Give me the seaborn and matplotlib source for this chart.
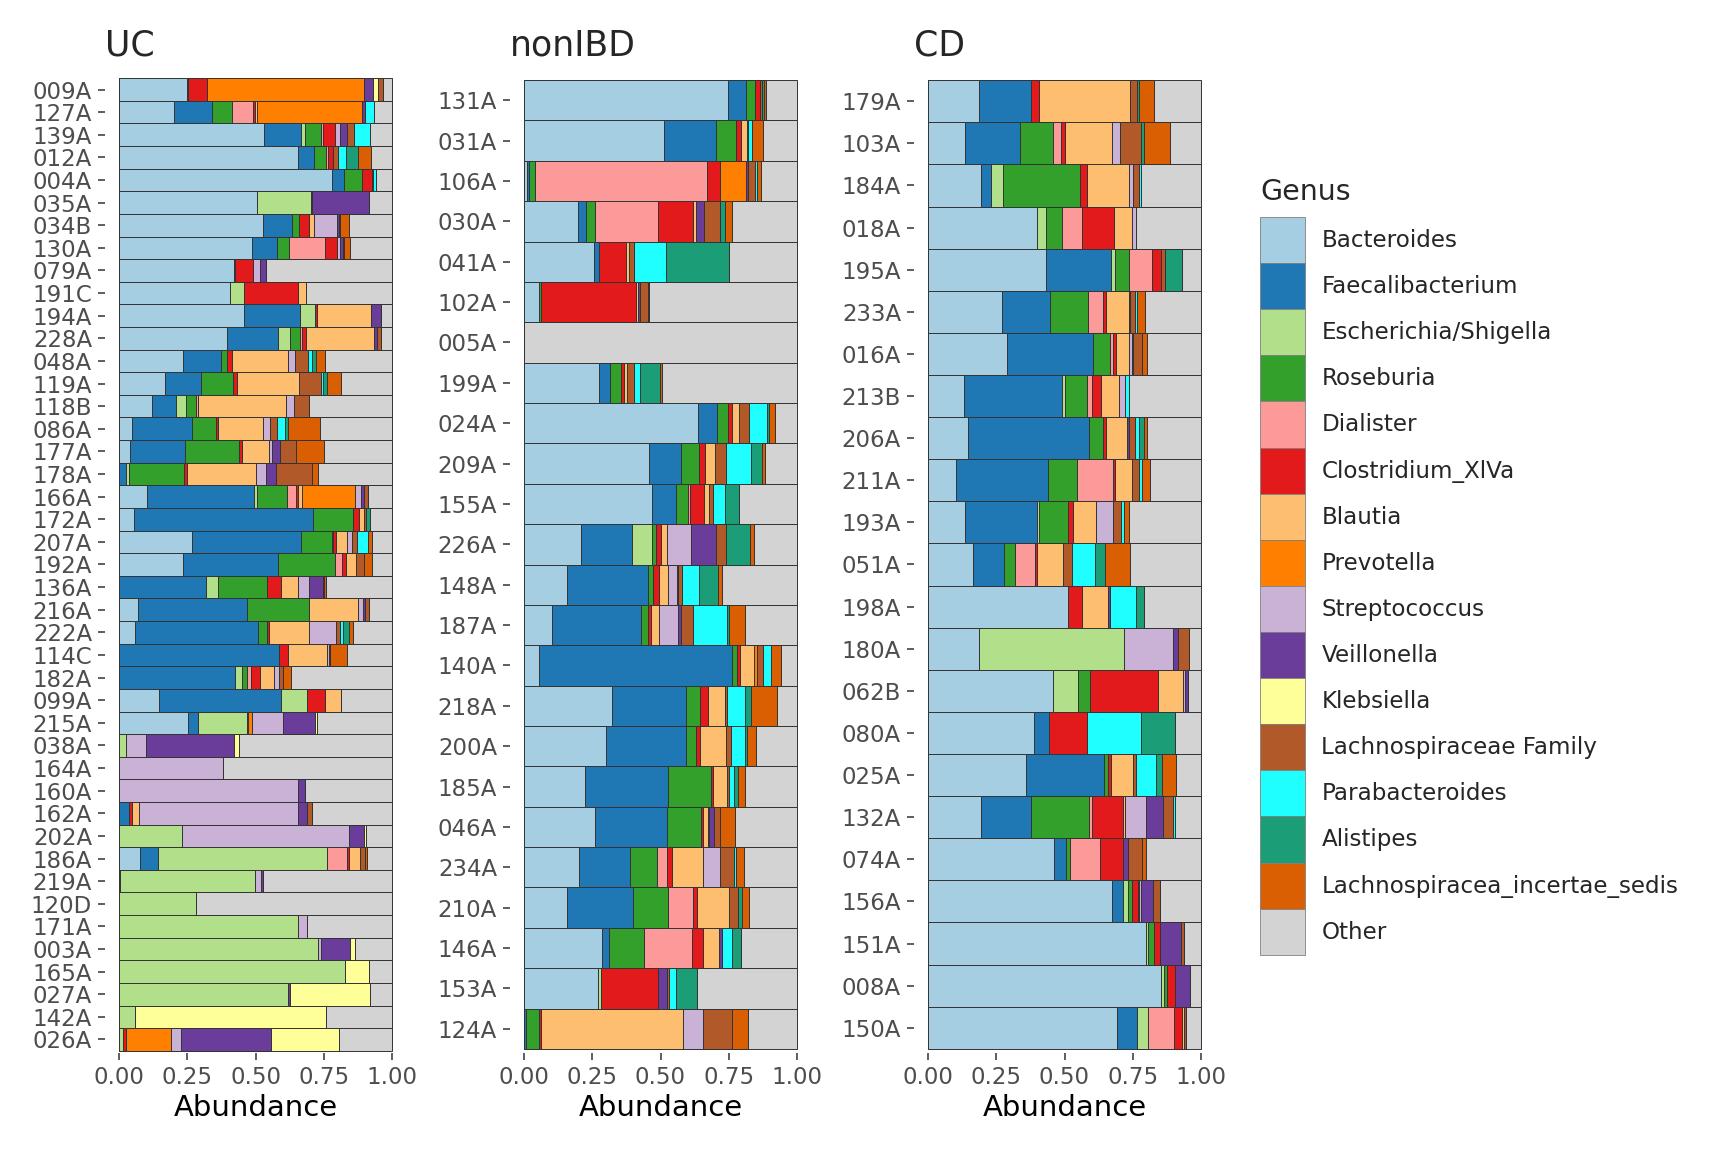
import numpy as np
import pandas as pd
import matplotlib
matplotlib.use("Agg")
import matplotlib.pyplot as plt
import matplotlib.patches as mpatches
import seaborn as sns

# genus order = stacking order from left to right (Other is the remainder)
genera = ["Bacteroides", "Faecalibacterium", "Escherichia/Shigella", "Roseburia",
          "Dialister", "Clostridium_XlVa", "Blautia", "Prevotella", "Streptococcus",
          "Veillonella", "Klebsiella", "Lachnospiraceae Family", "Parabacteroides",
          "Alistipes", "Lachnospiracea_incertae_sedis", "Other"]

colors = ["#A6CEE3", "#1F78B4", "#B2DF8A", "#33A02C", "#FB9A99", "#E31A1C",
          "#FDBF6F", "#FF7F00", "#CAB2D6", "#6A3D9A", "#FFFF99", "#B15928",
          "#1FFFFF", "#1B9E77", "#D95F02", "#D3D3D3"]

# columns: Bact, Faec, Esch, Rose, Dial, Clos, Blau, Prev, Strep, Veil, Kleb, LFam, Para, Alis, LInc
uc_samples = ["009A", "127A", "139A", "012A", "004A", "035A", "034B", "130A", "079A",
              "191C", "194A", "228A", "048A", "119A", "118B", "086A", "177A", "178A",
              "166A", "172A", "207A", "192A", "136A", "216A", "222A", "114C", "182A",
              "099A", "215A", "038A", "164A", "160A", "162A", "202A", "186A", "219A",
              "120D", "171A", "003A", "165A", "027A", "142A", "026A"]
uc_abund = [
    [0.248, 0, 0, 0.007, 0, 0.066, 0, 0.576, 0, 0.033, 0.018, 0.018, 0, 0, 0],
    [0.203, 0.139, 0, 0.073, 0.077, 0.006, 0.006, 0.387, 0, 0.008, 0, 0, 0.034, 0, 0],
    [0.532, 0.136, 0.012, 0.061, 0.006, 0.045, 0, 0, 0.016, 0.027, 0, 0.026, 0.057, 0, 0],
    [0.657, 0.058, 0, 0.041, 0.009, 0.017, 0, 0, 0, 0, 0, 0.021, 0.028, 0.045, 0.045],
    [0.778, 0.045, 0, 0.065, 0, 0.037, 0, 0, 0, 0, 0, 0.006, 0.011, 0, 0],
    [0.504, 0, 0.197, 0, 0, 0.005, 0, 0, 0, 0.207, 0, 0, 0, 0, 0],
    [0.526, 0.106, 0, 0.028, 0, 0.034, 0.021, 0, 0.082, 0.007, 0, 0.006, 0, 0, 0.033],
    [0.488, 0.091, 0, 0.043, 0.133, 0.044, 0, 0, 0.008, 0.012, 0, 0.006, 0, 0, 0.022],
    [0.42, 0, 0.005, 0, 0, 0.065, 0, 0, 0.027, 0.023, 0, 0, 0, 0, 0],
    [0.408, 0, 0.051, 0, 0, 0.195, 0.029, 0, 0, 0, 0, 0, 0, 0, 0],
    [0.459, 0.202, 0.057, 0, 0, 0.007, 0.197, 0, 0, 0.035, 0, 0, 0, 0, 0],
    [0.395, 0.186, 0.046, 0.037, 0.005, 0.016, 0.248, 0, 0, 0.012, 0, 0.012, 0, 0, 0],
    [0.236, 0.138, 0, 0.022, 0, 0.018, 0.203, 0, 0.028, 0, 0, 0.048, 0.012, 0.017, 0.032],
    [0.171, 0.129, 0, 0.119, 0, 0.012, 0.229, 0, 0, 0, 0, 0.078, 0.01, 0.012, 0.051],
    [0.122, 0.088, 0.037, 0.034, 0.01, 0, 0.32, 0, 0.028, 0, 0, 0.055, 0, 0, 0],
    [0.05, 0.217, 0, 0.088, 0, 0.007, 0.167, 0, 0.024, 0, 0, 0.027, 0.028, 0.009, 0.117],
    [0.043, 0.201, 0, 0.197, 0, 0.009, 0.099, 0, 0.013, 0.028, 0, 0.057, 0, 0, 0.105],
    [0, 0.026, 0.01, 0.201, 0, 0.012, 0.252, 0, 0.037, 0.037, 0, 0.132, 0, 0, 0.021],
    [0.105, 0.391, 0.011, 0.107, 0.034, 0.006, 0.017, 0.194, 0.022, 0.011, 0, 0.012, 0, 0, 0],
    [0.055, 0.654, 0, 0.146, 0, 0.022, 0.021, 0, 0, 0, 0, 0.007, 0, 0.012, 0],
    [0.269, 0.398, 0, 0.111, 0.006, 0.012, 0.039, 0, 0.018, 0, 0, 0.018, 0.04, 0, 0.015],
    [0.234, 0.347, 0, 0.21, 0.024, 0.015, 0.038, 0, 0, 0, 0, 0.03, 0, 0, 0.027],
    [0, 0.318, 0.046, 0.179, 0, 0.049, 0.062, 0, 0.043, 0.048, 0, 0.006, 0, 0, 0.006],
    [0.072, 0.396, 0, 0.229, 0, 0, 0.179, 0, 0.018, 0.006, 0, 0.016, 0, 0, 0],
    [0.061, 0.447, 0, 0.033, 0, 0.01, 0.144, 0, 0.099, 0, 0, 0.016, 0.008, 0.022, 0.018],
    [0, 0.587, 0, 0, 0, 0.03, 0.143, 0, 0.007, 0, 0, 0.007, 0, 0, 0.061],
    [0, 0.424, 0.028, 0.018, 0.015, 0.032, 0.052, 0, 0.018, 0, 0, 0.015, 0, 0, 0.027],
    [0.149, 0.443, 0.095, 0, 0, 0.068, 0.056, 0, 0, 0, 0, 0, 0, 0, 0],
    [0.255, 0.035, 0.178, 0, 0, 0, 0.005, 0.016, 0.11, 0.117, 0.007, 0, 0, 0, 0],
    [0, 0, 0.028, 0, 0, 0, 0, 0, 0.073, 0.319, 0.018, 0, 0, 0, 0],
    [0, 0.002, 0, 0, 0, 0, 0, 0, 0.378, 0, 0, 0, 0, 0, 0],
    [0, 0, 0, 0, 0, 0, 0, 0, 0.654, 0.027, 0, 0, 0, 0, 0],
    [0, 0.039, 0, 0, 0, 0.011, 0.023, 0, 0.581, 0.033, 0, 0.018, 0, 0, 0],
    [0, 0, 0.23, 0, 0, 0, 0, 0, 0.613, 0.052, 0.007, 0, 0, 0, 0],
    [0.079, 0.063, 0.618, 0, 0.073, 0.007, 0.043, 0, 0, 0, 0, 0.018, 0, 0, 0.008],
    [0, 0.006, 0.491, 0, 0, 0, 0, 0, 0.024, 0.006, 0, 0, 0, 0, 0],
    [0, 0, 0.281, 0, 0, 0, 0, 0, 0, 0, 0, 0, 0, 0, 0],
    [0, 0, 0.657, 0, 0, 0, 0, 0, 0.033, 0, 0, 0, 0, 0, 0],
    [0, 0, 0.727, 0, 0, 0, 0, 0, 0.012, 0.108, 0.015, 0, 0, 0, 0],
    [0, 0, 0.827, 0, 0, 0, 0, 0, 0, 0, 0.089, 0, 0, 0, 0],
    [0, 0, 0.62, 0, 0, 0, 0, 0, 0, 0.006, 0.292, 0, 0, 0, 0],
    [0, 0, 0.061, 0, 0, 0, 0, 0, 0, 0, 0.695, 0, 0, 0, 0],
    [0, 0, 0.017, 0, 0, 0.008, 0, 0.168, 0.034, 0.331, 0.247, 0, 0, 0, 0],
]

nonibd_samples = ["131A", "031A", "106A", "030A", "041A", "102A", "005A", "199A",
                  "024A", "209A", "155A", "226A", "148A", "187A", "140A", "218A",
                  "200A", "185A", "046A", "234A", "210A", "146A", "153A", "124A"]
nonibd_abund = [
    [0.745, 0.066, 0, 0.036, 0, 0.016, 0, 0, 0, 0, 0, 0.008, 0, 0.008, 0.008],
    [0.514, 0.188, 0, 0.075, 0, 0.018, 0.02, 0, 0, 0, 0, 0.004, 0.016, 0, 0.039],
    [0.012, 0.008, 0, 0.02, 0.631, 0.045, 0, 0.098, 0, 0.006, 0, 0.024, 0.01, 0, 0.012],
    [0.2, 0.027, 0, 0.032, 0.233, 0.125, 0.011, 0, 0, 0.032, 0, 0.058, 0, 0.018, 0.024],
    [0.258, 0.016, 0, 0, 0, 0.1, 0.012, 0, 0, 0, 0, 0.016, 0.117, 0.23, 0],
    [0.057, 0, 0, 0.007, 0, 0.345, 0.01, 0, 0, 0.007, 0, 0.027, 0, 0.006, 0],
    [0, 0, 0, 0, 0, 0, 0, 0, 0, 0, 0, 0, 0, 0, 0],
    [0.277, 0.039, 0, 0.04, 0, 0.012, 0.008, 0, 0, 0, 0, 0.027, 0.023, 0.072, 0.008],
    [0.638, 0.067, 0, 0.04, 0, 0.017, 0.026, 0, 0, 0, 0, 0.034, 0.066, 0.01, 0.019],
    [0.459, 0.117, 0, 0.066, 0, 0.021, 0.036, 0, 0, 0, 0, 0.041, 0.092, 0.039, 0.011],
    [0.468, 0.09, 0, 0.041, 0.009, 0.05, 0.019, 0, 0, 0, 0, 0.015, 0.045, 0.05, 0],
    [0.21, 0.185, 0.075, 0.013, 0, 0.019, 0.022, 0, 0.089, 0.091, 0, 0.036, 0, 0.087, 0.013],
    [0.157, 0.296, 0, 0.021, 0, 0.021, 0.032, 0, 0.033, 0.004, 0, 0.016, 0.06, 0.069, 0.015],
    [0.103, 0.326, 0, 0.027, 0, 0.011, 0.029, 0, 0.069, 0.009, 0, 0.044, 0.126, 0.007, 0.058],
    [0.056, 0.706, 0, 0.016, 0, 0.012, 0.052, 0.011, 0, 0, 0, 0.022, 0.03, 0, 0.034],
    [0.323, 0.272, 0, 0.051, 0, 0.026, 0.063, 0, 0, 0, 0, 0.007, 0.066, 0.021, 0.095],
    [0.3, 0.295, 0, 0.034, 0, 0.015, 0.097, 0, 0, 0, 0, 0.018, 0.049, 0.008, 0.034],
    [0.225, 0.301, 0, 0.157, 0, 0.01, 0.049, 0, 0, 0, 0, 0.01, 0.016, 0.017, 0.022],
    [0.259, 0.265, 0, 0.123, 0, 0.007, 0.018, 0, 0.006, 0.018, 0, 0.023, 0, 0, 0.055],
    [0.203, 0.186, 0, 0.097, 0.039, 0.018, 0.114, 0, 0.06, 0, 0, 0.053, 0.007, 0, 0.028],
    [0.157, 0.241, 0, 0.129, 0.09, 0.016, 0.117, 0, 0, 0, 0, 0.035, 0, 0.012, 0.028],
    [0.286, 0.024, 0, 0.131, 0.173, 0.04, 0.061, 0, 0, 0.011, 0, 0, 0.034, 0.036, 0],
    [0.273, 0, 0.01, 0, 0, 0.207, 0, 0, 0, 0.033, 0, 0.008, 0.024, 0.078, 0],
    [0, 0.01, 0, 0.045, 0, 0.008, 0.518, 0, 0.073, 0, 0, 0.106, 0, 0, 0.061],
]

cd_samples = ["179A", "103A", "184A", "018A", "195A", "233A", "016A", "213B", "206A",
              "211A", "193A", "051A", "198A", "180A", "062B", "080A", "025A", "132A",
              "074A", "156A", "151A", "008A", "150A"]
cd_abund = [
    [0.187, 0.19, 0, 0, 0, 0.029, 0.332, 0, 0, 0, 0, 0.027, 0, 0.006, 0.057],
    [0.136, 0.202, 0, 0.12, 0.03, 0.013, 0.172, 0, 0.028, 0, 0, 0.077, 0, 0.011, 0.096],
    [0.195, 0.035, 0.044, 0.283, 0, 0.026, 0.154, 0, 0.012, 0, 0, 0.022, 0.01, 0, 0],
    [0.4, 0, 0.032, 0.06, 0.072, 0.118, 0.064, 0, 0.016, 0, 0, 0, 0, 0, 0],
    [0.432, 0.238, 0.015, 0.05, 0.084, 0.034, 0, 0, 0, 0, 0, 0.015, 0, 0.06, 0],
    [0.271, 0.176, 0, 0.139, 0.056, 0.01, 0.083, 0, 0, 0.006, 0, 0.015, 0.01, 0, 0.029],
    [0.29, 0.314, 0, 0.063, 0.01, 0.012, 0.046, 0, 0.01, 0.006, 0, 0.032, 0, 0, 0.019],
    [0.134, 0.358, 0.01, 0.079, 0.019, 0.034, 0.066, 0, 0.021, 0, 0, 0, 0.015, 0, 0],
    [0.147, 0.443, 0, 0.051, 0, 0.011, 0.077, 0, 0, 0.007, 0, 0.023, 0.013, 0.018, 0.011],
    [0.102, 0.339, 0, 0.103, 0.134, 0.005, 0.064, 0, 0, 0, 0, 0.026, 0.009, 0, 0.03],
    [0.136, 0.262, 0.007, 0.108, 0, 0.018, 0.084, 0, 0.063, 0, 0, 0.028, 0.012, 0, 0.018],
    [0.167, 0.113, 0, 0.039, 0.075, 0.005, 0.094, 0, 0, 0, 0, 0.034, 0.083, 0.038, 0.091],
    [0.512, 0, 0, 0, 0, 0.052, 0.096, 0, 0, 0.006, 0, 0, 0.094, 0.029, 0],
    [0.187, 0, 0.53, 0, 0, 0, 0, 0, 0.178, 0.018, 0, 0.043, 0, 0, 0],
    [0.457, 0, 0.091, 0.047, 0, 0.246, 0.091, 0, 0.008, 0.011, 0, 0, 0, 0, 0],
    [0.388, 0.055, 0, 0, 0, 0.14, 0, 0, 0, 0, 0, 0, 0.196, 0.125, 0],
    [0.361, 0.282, 0, 0.015, 0, 0.012, 0.08, 0, 0, 0, 0, 0.013, 0.071, 0.024, 0.049],
    [0.195, 0.184, 0, 0.212, 0.01, 0.111, 0.01, 0, 0.075, 0.063, 0, 0.036, 0.006, 0, 0],
    [0.461, 0.045, 0, 0.015, 0.108, 0.084, 0, 0, 0, 0.019, 0, 0.05, 0, 0, 0.017],
    [0.673, 0.041, 0.018, 0.013, 0, 0.022, 0.006, 0, 0.008, 0.044, 0, 0.024, 0, 0, 0],
    [0.797, 0, 0.007, 0.022, 0, 0.024, 0, 0, 0, 0.075, 0, 0.012, 0, 0, 0],
    [0.854, 0, 0.009, 0.011, 0, 0.03, 0, 0, 0, 0.055, 0, 0, 0, 0, 0],
    [0.691, 0.074, 0.039, 0, 0.095, 0.03, 0.007, 0, 0, 0, 0, 0.007, 0, 0, 0],
]

x_ticks = [0, 0.25, 0.5, 0.75, 1.0]
x_ticklabels = ["0.00", "0.25", "0.50", "0.75", "1.00"]

sns.set_style("white")
plt.rcParams["font.family"] = ["DejaVu Sans"]

W, H = 1728, 1152
fig = plt.figure(figsize=(W / 100, H / 100), dpi=100)

edge = "#333333"
tick_col = "#4D4D4D"


def panel(left_px, samples, rows, title):
    # panel box in pixels: top 76, bottom 1053
    ax = fig.add_axes([left_px / W, 1 - 1053 / H, 301 / W, (1053 - 76) / H])
    vals = np.array(rows, dtype=float)
    other = np.clip(1 - vals.sum(axis=1), 0, None)
    vals = np.column_stack([vals, other])
    cum = vals.cumsum(axis=1)
    df = pd.DataFrame(cum, columns=genera)
    df["sample"] = samples
    # overlay cumulative bars, longest first
    for g, c in zip(genera[::-1], colors[::-1]):
        sns.barplot(data=df, x=g, y="sample", order=samples, orient="h",
                    color=c, saturation=1, width=1, edgecolor=edge,
                    linewidth=0.7, errorbar=None, ax=ax)
    ax.set_xlim(-0.05, 1.05)
    ax.set_ylim(len(samples) - 1 + 0.6, -0.6)
    ax.set_xticks(x_ticks)
    ax.set_xticklabels(x_ticklabels)
    for s in ax.spines.values():
        s.set_visible(False)
    ax.tick_params(axis="both", which="major", length=4.8, width=1.1,
                   color="#333333", labelsize=16.5, labelcolor=tick_col,
                   pad=4.5, left=True, bottom=True)
    ax.set_ylabel("")
    ax.set_xlabel("Abundance", fontsize=21, color="black", labelpad=4)
    ax.set_title(title, loc="left", fontsize=25, pad=15)
    return ax


panel(105, uc_samples, uc_abund, "UC")
panel(510, nonibd_samples, nonibd_abund, "nonIBD")
panel(914, cd_samples, cd_abund, "CD")

# legend
handles = [mpatches.Patch(facecolor=c, edgecolor="#808080", linewidth=0.6) for c in colors]
fig.text(1260 / W, 1 - 200 / H, "Genus", fontsize=20.5, va="baseline", ha="left")
fig.legend(handles, genera, loc="upper left", bbox_to_anchor=(1260 / W, 1 - 217 / H),
           frameon=False, fontsize=16.6, handlelength=1.96, handleheight=2.7,
           handletextpad=0.7, labelspacing=0, borderpad=0, borderaxespad=0)

fig.savefig("out.png", dpi=100)
